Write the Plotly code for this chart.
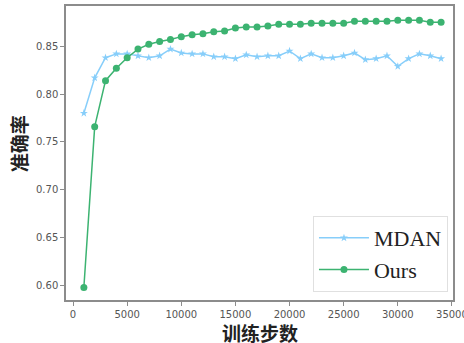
import plotly.graph_objects as go

steps = list(range(1000, 35000, 1000))
mdan = [0.780, 0.817, 0.838, 0.842, 0.842, 0.840, 0.838, 0.840, 0.847, 0.843,
        0.842, 0.842, 0.839, 0.839, 0.837, 0.841, 0.839, 0.840, 0.840, 0.845,
        0.837, 0.842, 0.838, 0.838, 0.840, 0.843, 0.836, 0.837, 0.840, 0.829,
        0.837, 0.842, 0.840, 0.837]
ours = [0.598, 0.766, 0.814, 0.827, 0.838, 0.847, 0.852, 0.855, 0.857, 0.860,
        0.862, 0.863, 0.865, 0.866, 0.869, 0.870, 0.870, 0.871, 0.873, 0.873,
        0.873, 0.874, 0.874, 0.874, 0.874, 0.876, 0.876, 0.876, 0.876, 0.877,
        0.877, 0.877, 0.875, 0.875]
x_ticks = [0, 5000, 10000, 15000, 20000, 25000, 30000, 35000]
y_ticks = [0.60, 0.65, 0.70, 0.75, 0.80, 0.85]

fig = go.Figure()
fig.add_trace(go.Scatter(x=steps, y=mdan, name="MDAN", mode="lines+markers",
                         line=dict(color="#87CEFA", width=1.5),
                         marker=dict(symbol="star", size=6, color="#87CEFA")))
fig.add_trace(go.Scatter(x=steps, y=ours, name="Ours", mode="lines+markers",
                         line=dict(color="#3CB371", width=1.5),
                         marker=dict(symbol="circle", size=7, color="#3CB371")))

axis_common = dict(showline=True, linecolor="#8c8c8c", linewidth=1.5, mirror=True,
                   ticks="outside", ticklen=4, tickcolor="#8c8c8c", tickwidth=1,
                   showgrid=False, zeroline=False, automargin=False,
                   ticklabeloverflow="allow",
                   tickfont=dict(family="DejaVu Sans", size=10, color="#555555"))

fig.update_layout(
    width=464, height=343,
    margin=dict(l=66, r=11, t=6, b=43),
    plot_bgcolor="white", paper_bgcolor="white",
    xaxis=dict(range=[-650, 35100], tickvals=x_ticks, ticktext=[str(v) for v in x_ticks],
               **axis_common),
    yaxis=dict(range=[0.585, 0.892], tickvals=y_ticks, ticktext=["%.2f" % v for v in y_ticks],
               **axis_common),
    legend=dict(x=0.987, y=0.027, xanchor="right", yanchor="bottom",
                bgcolor="rgba(255,255,255,0.8)", bordercolor="#e0e0e0", borderwidth=1,
                font=dict(family="Liberation Serif", size=22, color="#222222"),
                itemwidth=50, tracegroupgap=0),
    showlegend=True,
    annotations=[
        dict(text="<b>训练步数</b>", xref="paper", yref="paper", x=0.5, y=-0.112,
             xanchor="center", yanchor="middle", showarrow=False,
             font=dict(family="Noto Sans CJK SC", size=19, color="#222222")),
        dict(text="<b>准确率</b>", xref="paper", yref="paper", x=-0.124, y=0.53,
             xanchor="center", yanchor="middle", showarrow=False, textangle=-90,
             font=dict(family="Noto Sans CJK SC", size=19, color="#222222")),
    ],
)

fig.write_html("out.html", config={"displayModeBar": False},
               post_script="document.body.style.margin='0';document.body.style.padding='0';")
